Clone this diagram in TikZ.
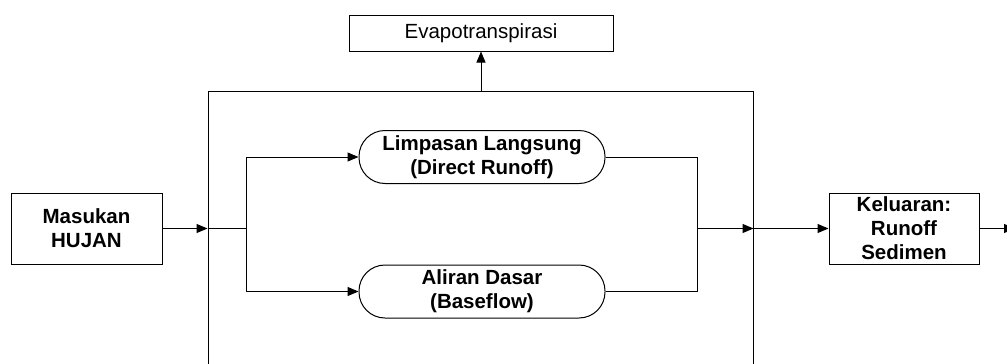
\documentclass[tikz,border=0pt]{standalone}
\usepackage{fontspec}
\setmainfont{Liberation Sans}
\usetikzlibrary{arrows.meta}
\begin{document}
\begin{tikzpicture}[x=1pt,y=-1pt,
  base/.style={draw=black, line width=1pt, align=center, inner sep=0pt,
    font=\fontsize{20.5}{24}\selectfont},
  sqbox/.style={base, font=\fontsize{20.5}{24}\selectfont\bfseries},
  rndbox/.style={base, rounded corners=26pt, font=\fontsize{20.5}{24}\selectfont\bfseries},
  line/.style={draw=black, line width=1pt},
  arr/.style={line, -{Triangle[length=11pt,width=9pt]}}]
\useasboundingbox (0,0) rectangle (1007,364);
\node[base, minimum width=545pt, minimum height=279pt] (sys) at (480.5,230.5) {};
\node[sqbox, minimum width=151pt, minimum height=71pt] (mas) at (86.5,228.5) {Masukan\\HUJAN};
\node[sqbox, minimum width=150pt, minimum height=71pt] (kel) at (904,228.5) {Keluaran:\\Runoff\\Sedimen};
\node[base, minimum width=264pt, minimum height=36pt] (evap) at (481,33) {Evapotranspirasi};
\node[rndbox, minimum width=246pt, minimum height=53pt] (lim) at (482,157) {Limpasan Langsung\\(Direct Runoff)};
\node[rndbox, minimum width=246pt, minimum height=53pt] (ali) at (482,291.5) {Aliran Dasar\\(Baseflow)};
\coordinate (bL) at (246,228.5);
\coordinate (bR) at (697,228.5);
\coordinate (out) at (1015,228.5);
\draw[arr] (mas.east) -- (mas.east -| sys.west);
\draw[line] (mas.east -| sys.west) -- (bL);
\draw[arr] (bL) |- (lim.west);
\draw[arr] (bL) |- (ali.west);
\draw[line] (lim.east) -| (bR);
\draw[line] (ali.east) -| (bR);
\draw[arr] (bR) -- (bR -| sys.east);
\draw[arr] (bR -| sys.east) -- (kel.west);
\draw[arr] (evap.south |- sys.north) -- (evap.south);
\draw[arr] (kel.east) -- (out);
\end{tikzpicture}
\end{document}
